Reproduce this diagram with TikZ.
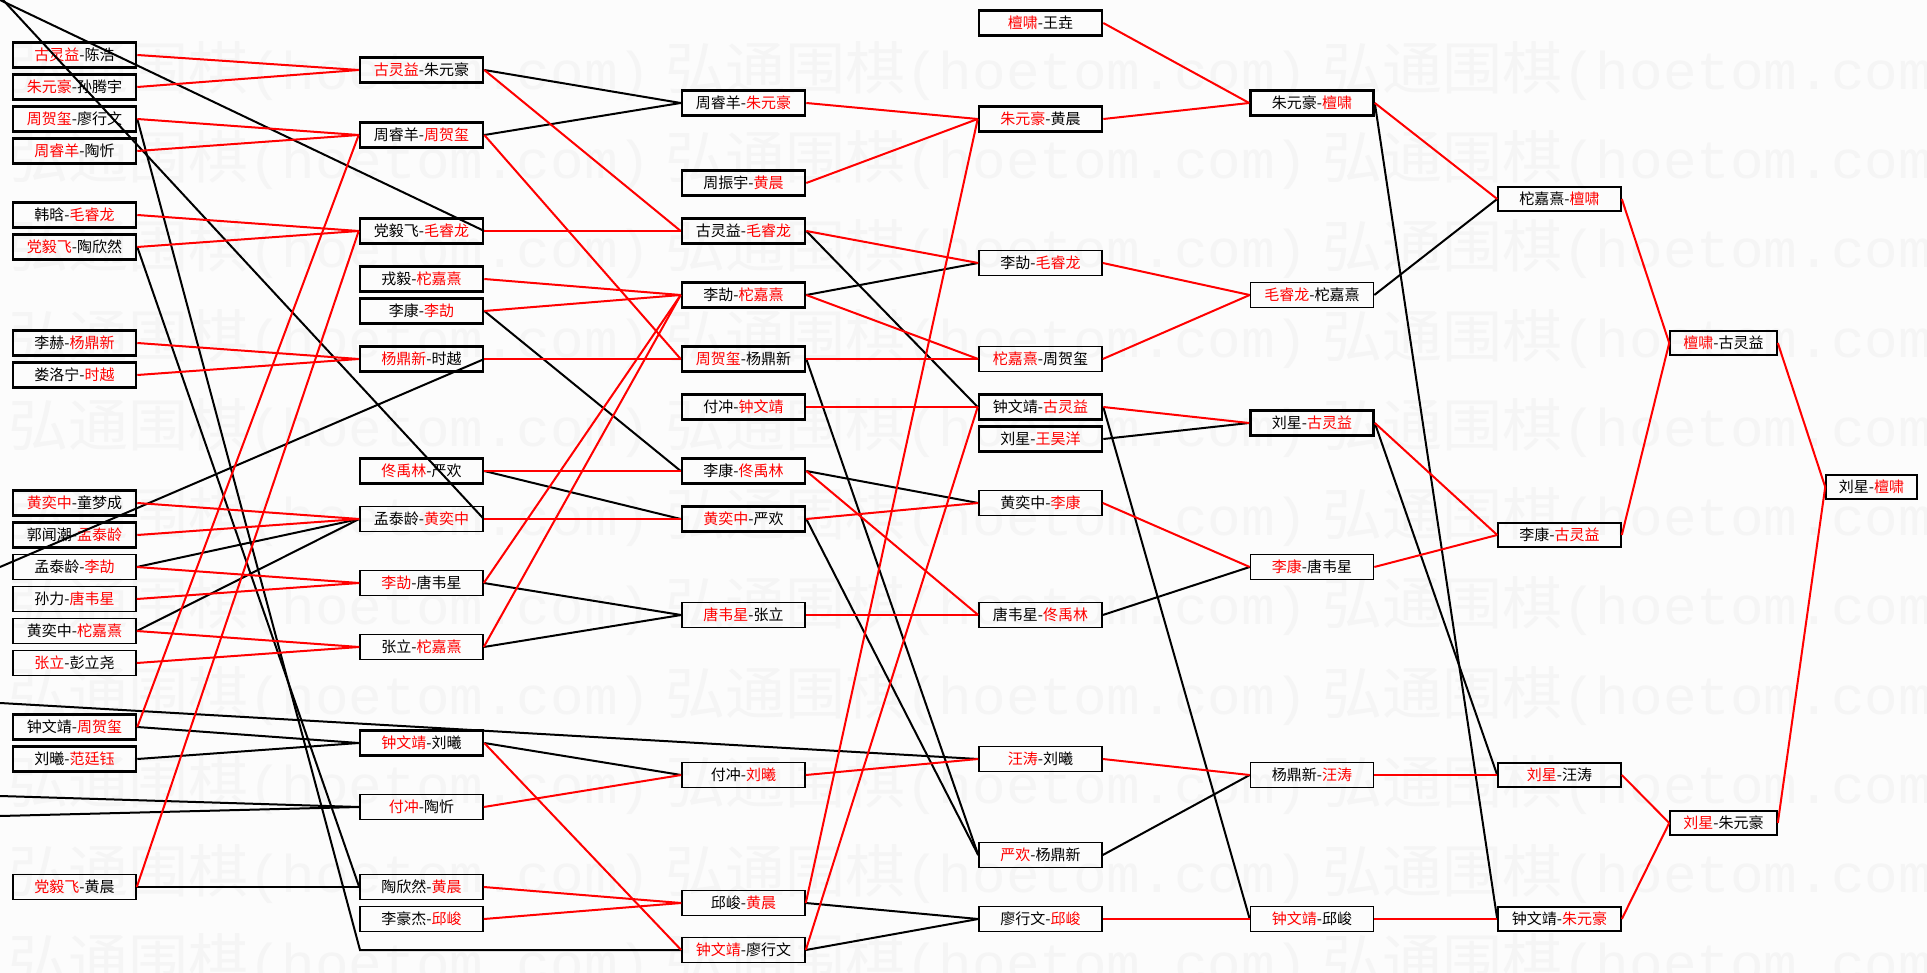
\documentclass[tikz,border=0pt]{standalone}
\usepackage{fontspec}
\setmainfont{Noto Sans CJK SC}
\newfontfamily\wmlatin{Liberation Mono}
\tikzstyle{wbox}=[draw, line width=2.6pt, minimum width=123pt, minimum height=25pt, inner sep=0pt, font=\fontsize{15}{15}\selectfont]
\tikzstyle{lbox}=[wbox, line width=1.6pt]
\tikzstyle{win}=[red, line width=2pt]
\tikzstyle{lose}=[black, line width=2pt]
\tikzstyle{wmark}=[anchor=west, inner sep=0pt, text=black!4, yscale=0.95, transform shape]
\newcommand{\winner}[1]{\textcolor{red}{#1}}

\begin{document}
\begin{tikzpicture}[x=1pt, y=-1pt]
\useasboundingbox (0,0) rectangle (1927,973);
\clip (0,0) rectangle (1927,973);
\fill[gray!2] (0,0) rectangle (1927,973);

% watermark
\foreach \r in {0,...,10}
  \foreach \k in {0,1,2}
    \node[wmark] (wm-\r-\k) at (8+657*\k, 71+89.25*\r)
      {\fontsize{60}{60}\selectfont 弘通围棋{\wmlatin\fontsize{56}{56}\selectfont (hoetom.com)}};

% round 1
\node[wbox] (a1)  at (74.5, 55)  {\winner{古灵益}-陈浩};
\node[wbox] (a2)  at (74.5, 87)  {\winner{朱元豪}-孙腾宇};
\node[wbox] (a3)  at (74.5, 119) {\winner{周贺玺}-廖行文};
\node[wbox] (a4)  at (74.5, 151) {\winner{周睿羊}-陶忻};
\node[wbox] (a5)  at (74.5, 215) {韩晗-\winner{毛睿龙}};
\node[wbox] (a6)  at (74.5, 247) {\winner{党毅飞}-陶欣然};
\node[wbox] (a7)  at (74.5, 343) {李赫-\winner{杨鼎新}};
\node[wbox] (a8)  at (74.5, 375) {娄洛宁-\winner{时越}};
\node[wbox] (a9)  at (74.5, 503) {\winner{黄奕中}-童梦成};
\node[wbox] (a10) at (74.5, 535) {郭闻潮-\winner{孟泰龄}};
\node[lbox] (a11) at (74.5, 567) {孟泰龄-\winner{李劼}};
\node[lbox] (a12) at (74.5, 599) {孙力-\winner{唐韦星}};
\node[lbox] (a13) at (74.5, 631) {黄奕中-\winner{柁嘉熹}};
\node[lbox] (a14) at (74.5, 663) {\winner{张立}-彭立尧};
\node[wbox] (a15) at (74.5, 727) {钟文靖-\winner{周贺玺}};
\node[wbox] (a16) at (74.5, 759) {刘曦-\winner{范廷钰}};
\node[lbox] (a17) at (74.5, 887) {\winner{党毅飞}-黄晨};

% round 2
\node[wbox] (b1)  at (421.5, 70)  {\winner{古灵益}-朱元豪};
\node[wbox] (b2)  at (421.5, 135) {周睿羊-\winner{周贺玺}};
\node[wbox] (b3)  at (421.5, 231) {党毅飞-\winner{毛睿龙}};
\node[wbox] (b4)  at (421.5, 279) {戎毅-\winner{柁嘉熹}};
\node[wbox] (b5)  at (421.5, 311) {李康-\winner{李劼}};
\node[wbox] (b6)  at (421.5, 359) {\winner{杨鼎新}-时越};
\node[wbox] (b7)  at (421.5, 471) {\winner{佟禹林}-严欢};
\node[lbox] (b8)  at (421.5, 519) {孟泰龄-\winner{黄奕中}};
\node[lbox] (b9)  at (421.5, 583) {\winner{李劼}-唐韦星};
\node[lbox] (b10) at (421.5, 647) {张立-\winner{柁嘉熹}};
\node[wbox] (b11) at (421.5, 743) {\winner{钟文靖}-刘曦};
\node[lbox] (b12) at (421.5, 807) {\winner{付冲}-陶忻};
\node[lbox] (b13) at (421.5, 887) {陶欣然-\winner{黄晨}};
\node[lbox] (b14) at (421.5, 919) {李豪杰-\winner{邱峻}};

% round 3
\node[wbox] (c1)  at (743.5, 103) {周睿羊-\winner{朱元豪}};
\node[wbox] (c2)  at (743.5, 183) {周振宇-\winner{黄晨}};
\node[wbox] (c3)  at (743.5, 231) {古灵益-\winner{毛睿龙}};
\node[wbox] (c4)  at (743.5, 295) {李劼-\winner{柁嘉熹}};
\node[wbox] (c5)  at (743.5, 359) {\winner{周贺玺}-杨鼎新};
\node[wbox] (c6)  at (743.5, 407) {付冲-\winner{钟文靖}};
\node[wbox] (c7)  at (743.5, 471) {李康-\winner{佟禹林}};
\node[wbox] (c8)  at (743.5, 519) {\winner{黄奕中}-严欢};
\node[lbox] (c9)  at (743.5, 615) {\winner{唐韦星}-张立};
\node[lbox] (c10) at (743.5, 775) {付冲-\winner{刘曦}};
\node[lbox] (c11) at (743.5, 903) {邱峻-\winner{黄晨}};
\node[lbox] (c12) at (743.5, 950) {\winner{钟文靖}-廖行文};

% round 4
\node[wbox] (d1)  at (1040.5, 23)  {\winner{檀啸}-王垚};
\node[wbox] (d2)  at (1040.5, 119) {\winner{朱元豪}-黄晨};
\node[lbox] (d3)  at (1040.5, 263) {李劼-\winner{毛睿龙}};
\node[lbox] (d4)  at (1040.5, 359) {\winner{柁嘉熹}-周贺玺};
\node[wbox] (d5)  at (1040.5, 407) {钟文靖-\winner{古灵益}};
\node[wbox] (d6)  at (1040.5, 439) {刘星-\winner{王昊洋}};
\node[lbox] (d7)  at (1040.5, 503) {黄奕中-\winner{李康}};
\node[lbox] (d8)  at (1040.5, 615) {唐韦星-\winner{佟禹林}};
\node[lbox] (d9)  at (1040.5, 759) {\winner{汪涛}-刘曦};
\node[lbox] (d10) at (1040.5, 855) {\winner{严欢}-杨鼎新};
\node[lbox] (d11) at (1040.5, 919) {廖行文-\winner{邱峻}};

% round 5
\node[wbox] (e1) at (1312, 103) {朱元豪-\winner{檀啸}};
\node[lbox] (e2) at (1312, 295) {\winner{毛睿龙}-柁嘉熹};
\node[wbox] (e3) at (1312, 423) {刘星-\winner{古灵益}};
\node[lbox] (e4) at (1312, 567) {\winner{李康}-唐韦星};
\node[lbox] (e5) at (1312, 775) {杨鼎新-\winner{汪涛}};
\node[lbox] (e6) at (1312, 919) {\winner{钟文靖}-邱峻};

% last rounds
\node[lbox, minimum height=24pt] (f1) at (1559.5, 199) {柁嘉熹-\winner{檀啸}};
\node[lbox, minimum height=24pt] (f2) at (1559.5, 535) {李康-\winner{古灵益}};
\node[lbox, minimum height=24pt] (f3) at (1559.5, 775) {\winner{刘星}-汪涛};
\node[lbox, minimum height=24pt] (f4) at (1559.5, 919) {钟文靖-\winner{朱元豪}};
\node[lbox, minimum height=24pt, minimum width=107pt] (g1) at (1723.5, 343) {\winner{檀啸}-古灵益};
\node[lbox, minimum height=24pt, minimum width=107pt] (g2) at (1723.5, 823) {\winner{刘星}-朱元豪};
\node[lbox, minimum height=24pt, minimum width=91pt] (h1) at (1871.5, 487) {刘星-\winner{檀啸}};

% ends off the left side
\coordinate (tl1) at (0, 0);
\coordinate (tl2) at (3, 0);
\coordinate (lm1) at (0, 567);
\coordinate (lm2) at (0, 703);
\coordinate (lm3) at (0, 796);
\coordinate (lm4) at (0, 816);
\coordinate (bend) at (360, 950);

\draw[lose] (tl1) -- (b3.east);
\draw[lose] (tl2) -- (b8.east);
\draw[lose] (b6.east) -- (lm1);
\draw[lose] (lm2) -- (d9.west);
\draw[lose] (lm3) -- (b12.west);
\draw[lose] (lm4) -- (b12.west);

\draw[lose] (a3.east) -- (bend) -- (c12.west);
\draw[lose] (a6.east) -- (b13.west);
\draw[lose] (a11.east) -- (b8.west);
\draw[lose] (a13.east) -- (b8.west);
\draw[lose] (a15.east) -- (b11.west);
\draw[lose] (a16.east) -- (b11.west);
\draw[lose] (a17.east) -- (b13.west);

\draw[win] (a1.east) -- (b1.west);
\draw[win] (a2.east) -- (b1.west);
\draw[win] (a3.east) -- (b2.west);
\draw[win] (a4.east) -- (b2.west);
\draw[win] (a5.east) -- (b3.west);
\draw[win] (a6.east) -- (b3.west);
\draw[win] (a7.east) -- (b6.west);
\draw[win] (a8.east) -- (b6.west);
\draw[win] (a9.east) -- (b8.west);
\draw[win] (a10.east) -- (b8.west);
\draw[win] (a11.east) -- (b9.west);
\draw[win] (a12.east) -- (b9.west);
\draw[win] (a13.east) -- (b10.west);
\draw[win] (a14.east) -- (b10.west);
\draw[win] (a15.east) -- (b2.west);
\draw[win] (a17.east) -- (b3.west);

\draw[lose] (b1.east) -- (c1.west);
\draw[lose] (b2.east) -- (c1.west);
\draw[lose] (b5.east) -- (c7.west);
\draw[lose] (b7.east) -- (c8.west);
\draw[lose] (b9.east) -- (c9.west);
\draw[lose] (b10.east) -- (c9.west);
\draw[lose] (b11.east) -- (c10.west);

\draw[win] (b1.east) -- (c3.west);
\draw[win] (b2.east) -- (c5.west);
\draw[win] (b3.east) -- (c3.west);
\draw[win] (b4.east) -- (c4.west);
\draw[win] (b5.east) -- (c4.west);
\draw[win] (b6.east) -- (c5.west);
\draw[win] (b7.east) -- (c7.west);
\draw[win] (b8.east) -- (c8.west);
\draw[win] (b9.east) -- (c4.west);
\draw[win] (b10.east) -- (c4.west);
\draw[win] (b11.east) -- (c12.west);
\draw[win] (b12.east) -- (c10.west);
\draw[win] (b13.east) -- (c11.west);
\draw[win] (b14.east) -- (c11.west);

\draw[lose] (c3.east) -- (d5.west);
\draw[lose] (c4.east) -- (d3.west);
\draw[lose] (c5.east) -- (d10.west);
\draw[lose] (c7.east) -- (d7.west);
\draw[lose] (c8.east) -- (d10.west);
\draw[lose] (c11.east) -- (d11.west);
\draw[lose] (c12.east) -- (d11.west);

\draw[win] (c1.east) -- (d2.west);
\draw[win] (c2.east) -- (d2.west);
\draw[win] (c3.east) -- (d3.west);
\draw[win] (c4.east) -- (d4.west);
\draw[win] (c5.east) -- (d4.west);
\draw[win] (c6.east) -- (d5.west);
\draw[win] (c7.east) -- (d8.west);
\draw[win] (c8.east) -- (d7.west);
\draw[win] (c9.east) -- (d8.west);
\draw[win] (c10.east) -- (d9.west);
\draw[win] (c11.east) -- (d2.west);
\draw[win] (c12.east) -- (d5.west);

\draw[lose] (d5.east) -- (e6.west);
\draw[lose] (d6.east) -- (e3.west);
\draw[lose] (d8.east) -- (e4.west);
\draw[lose] (d10.east) -- (e5.west);

\draw[win] (d1.east) -- (e1.west);
\draw[win] (d2.east) -- (e1.west);
\draw[win] (d3.east) -- (e2.west);
\draw[win] (d4.east) -- (e2.west);
\draw[win] (d5.east) -- (e3.west);
\draw[win] (d7.east) -- (e4.west);
\draw[win] (d9.east) -- (e5.west);
\draw[win] (d11.east) -- (e6.west);

\draw[lose] (e1.east) -- (f4.west);
\draw[lose] (e2.east) -- (f1.west);
\draw[lose] (e3.east) -- (f3.west);

\draw[win] (e1.east) -- (f1.west);
\draw[win] (e3.east) -- (f2.west);
\draw[win] (e4.east) -- (f2.west);
\draw[win] (e5.east) -- (f3.west);
\draw[win] (e6.east) -- (f4.west);

\draw[win] (f1.east) -- (g1.west);
\draw[win] (f2.east) -- (g1.west);
\draw[win] (f3.east) -- (g2.west);
\draw[win] (f4.east) -- (g2.west);
\draw[win] (g1.east) -- (h1.west);
\draw[win] (g2.east) -- (h1.west);

\end{tikzpicture}
\end{document}
